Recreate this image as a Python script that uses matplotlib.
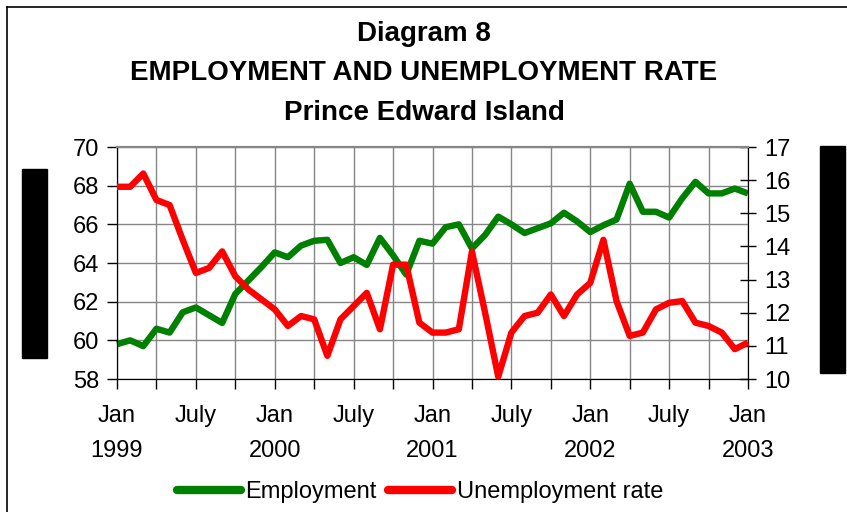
import matplotlib
matplotlib.use("Agg")
import matplotlib.pyplot as plt
from matplotlib.patches import Rectangle
from matplotlib.lines import Line2D

plt.rcParams['font.family'] = ['Liberation Sans', 'DejaVu Sans']

# ---- data (monthly, Jan 1999 .. Jan 2003) ----
employment = [
    59.8, 60.0, 59.7, 60.6, 60.4, 61.45, 61.7, 61.3, 60.9, 62.4, 63.1, 63.8,
    64.55, 64.3, 64.9, 65.15, 65.2, 64.0, 64.3, 63.9, 65.3, 64.4, 63.4, 65.15,
    65.0, 65.85, 66.0, 64.75, 65.45, 66.4, 66.0, 65.55, 65.8, 66.05, 66.6, 66.15,
    65.6, 65.95, 66.25, 68.1, 66.65, 66.65, 66.35, 67.35, 68.2, 67.6, 67.6, 67.85,
    67.6,
]
unemployment = [
    15.8, 15.8, 16.2, 15.4, 15.25, 14.2, 13.2, 13.35, 13.85, 13.1, 12.7, 12.4,
    12.1, 11.6, 11.9, 11.8, 10.7, 11.8, 12.2, 12.6, 11.5, 13.45, 13.45, 11.7,
    11.4, 11.4, 11.5, 13.85, 12.0, 10.07, 11.4, 11.9, 12.0, 12.55, 11.9, 12.55,
    12.9, 14.2, 12.35, 11.3, 11.4, 12.1, 12.3, 12.35, 11.7, 11.6, 11.4, 10.9,
    11.1,
]
tick_labels = ["Jan\n1999", "", "July", "", "Jan\n2000", "", "July", "",
               "Jan\n2001", "", "July", "", "Jan\n2002", "", "July", "",
               "Jan\n2003"]
left_ticks = [58, 60, 62, 64, 66, 68, 70]
right_ticks = [10, 11, 12, 13, 14, 15, 16, 17]
title_lines = ["Diagram 8", "EMPLOYMENT AND UNEMPLOYMENT RATE", "Prince Edward Island"]

W, H = 847, 512
fig = plt.figure(figsize=(W / 100, H / 100), dpi=100)
fig.patch.set_facecolor("white")

ax = fig.add_axes([117 / W, 1 - 379 / H, (748 - 117) / W, (379 - 147) / H])
ax2 = ax.twinx()

x = list(range(len(employment)))
ax.plot(x, employment, color="#008000", lw=4.6, solid_joinstyle="round",
        solid_capstyle="butt", clip_on=False, zorder=3)
ax2.plot(x, unemployment, color="#FF0000", lw=4.6, solid_joinstyle="round",
         solid_capstyle="butt", clip_on=False, zorder=3)

ax.set_xlim(0, 48)
ax.set_ylim(58, 70)
ax2.set_ylim(10, 17)

ax.set_xticks(list(range(0, 49, 3)))
ax.set_xticklabels(tick_labels)
ax.set_yticks(left_ticks)
ax2.set_yticks(right_ticks)

fs = 17
for lab in ax.get_xticklabels():
    lab.set_linespacing(1.75)
ax.tick_params(axis="x", direction="out", length=7, width=1, pad=12,
               labelsize=fs, colors="black")
ax.tick_params(axis="y", direction="out", length=7, width=1, pad=6,
               labelsize=fs)
ax2.tick_params(axis="y", direction="inout", length=12, width=1, pad=6,
                labelsize=fs)

ax.grid(True, color="#868686", lw=1)
ax.set_axisbelow(True)
for a in (ax, ax2):
    a.spines["top"].set_color("#868686")
    a.spines["top"].set_linewidth(1.5)
    a.spines["left"].set_color("black")
    a.spines["right"].set_color("black")
    a.spines["bottom"].set_color("black")

# titles
for i, t in enumerate(title_lines):
    fig.text(424 / W, 1 - (34 + i * 39.5) / H, t, ha="center", va="center",
             fontsize=20, fontweight="bold")

# legend
handles = [Line2D([], [], color="#008000", lw=6, solid_capstyle="round"),
           Line2D([], [], color="#FF0000", lw=6, solid_capstyle="round")]
fig.legend(handles, ["Employment", "Unemployment rate"], loc="center",
           bbox_to_anchor=(420 / W, 1 - 492 / H), ncol=2, frameon=False,
           fontsize=fs, handlelength=2.7, handletextpad=0.2, columnspacing=0.5)

# side blocks and frame
fig.patches.append(Rectangle((22 / W, 1 - 358 / H), 25 / W, 189 / H,
                             transform=fig.transFigure, color="black"))
fig.patches.append(Rectangle((820 / W, 1 - 373 / H), 25 / W, 227 / H,
                             transform=fig.transFigure, color="black"))
fig.lines.append(Line2D([7 / W, 1], [1 - 7 / H, 1 - 7 / H],
                        transform=fig.transFigure, color="black", lw=1.2))
fig.lines.append(Line2D([7 / W, 7 / W], [0, 1 - 7 / H],
                        transform=fig.transFigure, color="black", lw=1.2))

fig.savefig("out.png", dpi=100)
